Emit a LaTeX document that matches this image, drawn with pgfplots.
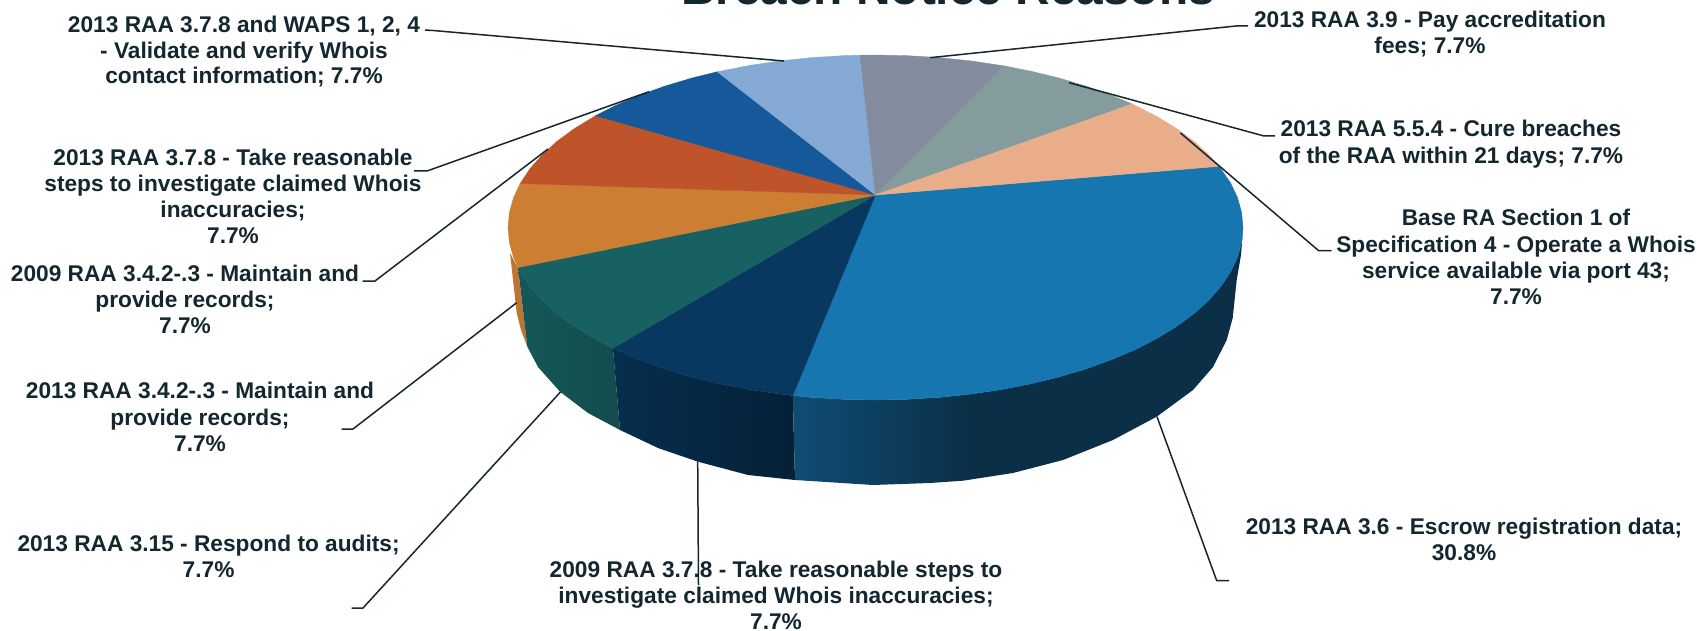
\documentclass[border=0pt]{standalone}
\usepackage{fontspec}
\setmainfont{Liberation Sans}
\usepackage{pgfplots}
\pgfplotsset{compat=1.18}

\definecolor{txt}{HTML}{14262E}
\definecolor{cblue}{HTML}{1576B0}
\definecolor{cnavy}{HTML}{08385F}
\definecolor{cteal}{HTML}{186163}
\definecolor{corange}{HTML}{CC7E32}
\definecolor{crust}{HTML}{BF5329}
\definecolor{cmid}{HTML}{15599A}
\definecolor{clight}{HTML}{84A9D4}
\definecolor{cgray}{HTML}{838C9E}
\definecolor{cgrayt}{HTML}{859C9F}
\definecolor{cpeach}{HTML}{E9AE89}
\definecolor{wallA}{HTML}{104C73}
\definecolor{wallB}{HTML}{0A2F47}
\pgfdeclarehorizontalshading{bluewall}{100bp}{color(0bp)=(wallA); color(25bp)=(wallA); color(45bp)=(wallB); color(100bp)=(wallB)}

\begin{document}
\begin{tikzpicture}[x=1pt,y=1pt,
    lab/.style={anchor=base, yshift=-0.8pt, text=txt, font=\fontsize{22.7}{26}\selectfont\bfseries, inner sep=0pt},
    lead/.style={draw=txt, line width=1.5pt, line join=round},
]
\path[use as bounding box] (0,0) rectangle (1697,631);
\begin{axis}[
    at={(0,0)}, anchor=south west,
    scale only axis,
    width=1697pt, height=631pt,
    xmin=0, xmax=1697,
    ymin=0, ymax=631,
    y dir=reverse,
    hide axis,
    clip=false,
    no markers,
]
% side wall
\addplot[draw=none, fill=corange!93!black] coordinates {(510,253)(518,268)(527.3,346.7)(521,330)(516.7,313)} --cycle;
\addplot[draw=none, left color=cteal!90!black, right color=cteal!78!black] coordinates {
    (518,267.5)(520.5,272.1)(530.2,286.5)(542.4,300.4)(557.2,313.8)(574.4,326.4)(594,338.4)(612.9,348.2)
    (620,430)(588,413)(560,391.7)(538,367)(527.3,346.7)} --cycle;
\addplot[draw=none, left color=cnavy!82!black, right color=cnavy!58!black] coordinates {
    (612.9,348.2)(615.6,349.5)(639.3,359.6)(664.7,368.8)(691.7,376.9)(720.2,383.8)(749.8,389.6)(780.4,394.1)(792.8,395.6)
    (795,480)(748,475)(698,461.7)(658,448)(620,430)} --cycle;
\addplot[draw=none, shade, shading=bluewall] coordinates {
    (792.8,395.6)(811.7,397.4)(843.5,399.3)(875.5,400)(907.5,399.3)(939.3,397.4)(970.6,394.1)(1001.2,389.6)
    (1030.8,383.8)(1059.3,376.9)(1086.3,368.8)(1111.7,359.6)(1135.4,349.5)(1157,338.4)(1176.6,326.4)(1193.8,313.8)
    (1208.6,300.4)(1220.8,286.5)(1230.5,272.1)(1237.4,257.5)(1241.6,242.5)(1243,230)
    (1241,255)(1236.7,280)(1232.7,318)(1226.7,340)(1213,367)(1193,390)(1156.7,416.7)(1113,440)(1063,460)
    (1013,473)(963,480.7)(930,483)(873,485)(795,480)} --cycle;
% top face
\addplot[draw=cblue, line width=0.4pt, fill=cblue] coordinates {
    (875.4,195)(1219,166.3)(1230.5,182.9)(1237.4,197.5)(1241.6,212.5)(1243,227.5)(1241.6,242.5)(1237.4,257.5)
    (1230.5,272.1)(1220.8,286.5)(1208.6,300.4)(1193.8,313.8)(1176.6,326.4)(1157,338.4)(1135.4,349.5)(1111.7,359.6)
    (1086.3,368.8)(1059.3,376.9)(1030.8,383.8)(1001.2,389.6)(970.6,394.1)(939.3,397.4)(907.5,399.3)(875.5,400)
    (843.5,399.3)(811.7,397.4)(792.8,395.6)} --cycle;
\addplot[draw=cnavy, line width=0.4pt, fill=cnavy] coordinates {
    (875.4,195)(792.8,395.6)(780.4,394.1)(749.8,389.6)(720.2,383.8)(691.7,376.9)(664.7,368.8)(639.3,359.6)(615.6,349.5)(612.9,348.2)} --cycle;
\addplot[draw=cteal, line width=0.4pt, fill=cteal] coordinates {
    (875.4,195)(612.9,348.2)(594,338.4)(574.4,326.4)(557.2,313.8)(542.4,300.4)(530.2,286.5)(520.5,272.1)(518,267.5)} --cycle;
\addplot[draw=corange, line width=0.4pt, fill=corange] coordinates {
    (875.4,195)(518,267.5)(513.6,257.5)(509.4,242.5)(508,227.5)(509.4,212.5)(513.6,197.5)(520.2,183.5)} --cycle;
\addplot[draw=crust, line width=0.4pt, fill=crust] coordinates {
    (875.4,195)(520.2,183.5)(530.2,168.5)(542.4,154.6)(557.2,141.2)(574.4,128.6)(595.6,115.7)} --cycle;
\addplot[draw=cmid, line width=0.4pt, fill=cmid] coordinates {
    (875.4,195)(595.6,115.7)(615.6,105.5)(639.3,95.4)(664.7,86.2)(691.7,78.1)(717.3,71.8)} --cycle;
\addplot[draw=clight, line width=0.4pt, fill=clight] coordinates {
    (875.4,195)(717.3,71.8)(749.8,65.4)(780.4,60.9)(811.7,57.6)(843.5,55.7)(860.1,55.2)} --cycle;
\addplot[draw=cgray, line width=0.4pt, fill=cgray] coordinates {
    (875.4,195)(860.1,55.2)(875.5,55)(907.5,55.7)(939.3,57.6)(970.6,60.9)(1004.2,65.9)} --cycle;
\addplot[draw=cgrayt, line width=0.4pt, fill=cgrayt] coordinates {
    (875.4,195)(1004.2,65.9)(1030.8,71.2)(1059.3,78.1)(1086.3,86.2)(1111.7,95.4)(1132.2,104)} --cycle;
\addplot[draw=cpeach, line width=0.4pt, fill=cpeach] coordinates {
    (875.4,195)(1132.2,104)(1157,116.6)(1176.6,128.6)(1193.8,141.2)(1208.6,154.6)(1219,166.3)} --cycle;
% leader lines
\addplot[lead] coordinates {(425,30)(433,30.5)(784,61)};
\addplot[lead] coordinates {(1248,26)(1236,26)(930,57.7)};
\addplot[lead] coordinates {(1275,136)(1264,136)(1069,82.7)};
\addplot[lead] coordinates {(1331.7,250.7)(1318.7,250.7)(1180.5,133)};
\addplot[lead] coordinates {(414,171)(427,171)(649,91.7)};
\addplot[lead] coordinates {(362.5,281)(375,281)(548,149)};
\addplot[lead] coordinates {(341.6,429)(353,429)(516.7,302.7)};
\addplot[lead] coordinates {(351.6,608)(363,608)(560.7,391.7)};
\addplot[lead] coordinates {(697.7,461.7)(698.5,585)};
\addplot[lead] coordinates {(1157,416.7)(1216.7,580.7)(1229,580.7)};
% labels
\node[lab, overlay, font=\fontsize{47.8}{50}\selectfont\bfseries] at (axis cs:948,3.5) {Breach Notice Reasons};
\node[lab] at (axis cs:244,32) {2013 RAA 3.7.8 and WAPS 1, 2, 4};
\node[lab] at (axis cs:244,57.5) {- Validate and verify Whois};
\node[lab] at (axis cs:244,83) {contact information; 7.7\%};
\node[lab] at (axis cs:233,165) {2013 RAA 3.7.8 - Take reasonable};
\node[lab] at (axis cs:233,191) {steps to investigate claimed Whois};
\node[lab] at (axis cs:233,217) {inaccuracies;};
\node[lab] at (axis cs:233,243) {7.7\%};
\node[lab] at (axis cs:185,281) {2009 RAA 3.4.2-.3 - Maintain and};
\node[lab] at (axis cs:185,307) {provide records;};
\node[lab] at (axis cs:185,333) {7.7\%};
\node[lab] at (axis cs:200,398) {2013 RAA 3.4.2-.3 - Maintain and};
\node[lab] at (axis cs:200,424.5) {provide records;};
\node[lab] at (axis cs:200,450.5) {7.7\%};
\node[lab] at (axis cs:208.6,550.5) {2013 RAA 3.15 - Respond to audits;};
\node[lab] at (axis cs:208.6,576.5) {7.7\%};
\node[lab] at (axis cs:776,577) {2009 RAA 3.7.8 - Take reasonable steps to};
\node[lab] at (axis cs:776,603) {investigate claimed Whois inaccuracies;};
\node[lab] at (axis cs:776,628.2) {7.7\%};
\node[lab] at (axis cs:1430,26.7) {2013 RAA 3.9 - Pay accreditation};
\node[lab] at (axis cs:1430,52.7) {fees; 7.7\%};
\node[lab] at (axis cs:1451,136) {2013 RAA 5.5.4 - Cure breaches};
\node[lab] at (axis cs:1451,162.5) {of the RAA within 21 days; 7.7\%};
\node[lab] at (axis cs:1516,225) {Base RA Section 1 of};
\node[lab] at (axis cs:1516,251.5) {Specification 4 - Operate a Whois};
\node[lab] at (axis cs:1516,277.5) {service available via port 43;};
\node[lab] at (axis cs:1516,304) {7.7\%};
\node[lab] at (axis cs:1464,533.3) {2013 RAA 3.6 - Escrow registration data;};
\node[lab] at (axis cs:1464,560) {30.8\%};
\end{axis}
\end{tikzpicture}
\end{document}
